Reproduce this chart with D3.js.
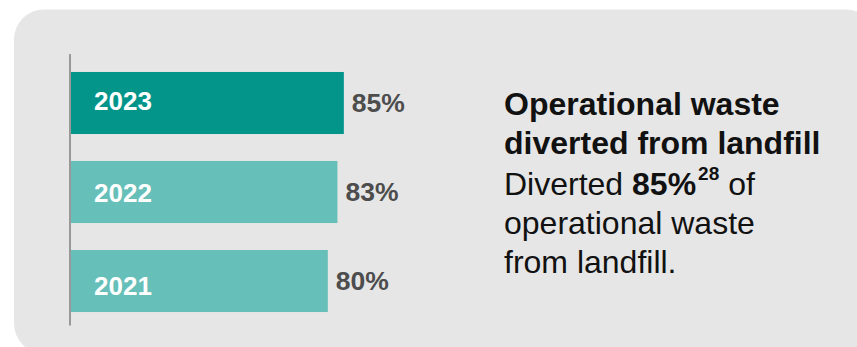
<!DOCTYPE html>
<html>
<head>
<meta charset="utf-8">
<script src="https://cdn.jsdelivr.net/npm/d3@7"></script>
<style>
  html, body { margin: 0; padding: 0; background: #ffffff; }
  svg { display: block; }
  text { font-family: "Liberation Sans", Arial, Helvetica, sans-serif; }
</style>
</head>
<body>
<div id="chart"></div>
<script>
// Waste diverted from landfill, by year (percent)
const years = ["2023", "2022", "2021"];
const diverted = [85, 83, 80];
const highlightYear = "2023";

// Side note text
const titleLines = ["Operational waste", "diverted from landfill"];
const noteValue = "85%";
const noteFootnote = "28";

const W = 857, H = 347;
const svg = d3.select("#chart").append("svg")
  .attr("width", W).attr("height", H);

// Rounded grey card behind everything
svg.append("rect")
  .attr("x", 14).attr("y", 9.5)
  .attr("width", 862).attr("height", 344)
  .attr("rx", 30).attr("ry", 30)
  .attr("fill", "#e6e6e6");

const x = d3.scaleLinear().domain([0, 100]).range([71, 392]);
const y = d3.scaleBand().domain(years).range([58.5, 325.5])
  .paddingInner(0.303).paddingOuter(0.1515);
// Baselines of the year labels inside the bars
const yLabel = d3.scalePoint().domain(years).range([109.5, 295]);

const rows = years.map((yr, i) => ({ year: yr, value: diverted[i] }));

// Bars
svg.append("g").selectAll("rect").data(rows).join("rect")
  .attr("x", x(0))
  .attr("y", d => y(d.year))
  .attr("width", d => x(d.value) - x(0))
  .attr("height", y.bandwidth())
  .attr("fill", d => d.year === highlightYear ? "#03958a" : "#66bfb8");

// Baseline axis
svg.append("line")
  .attr("x1", x(0) - 1).attr("x2", x(0) - 1)
  .attr("y1", 54).attr("y2", y.range()[1])
  .attr("stroke", "#999999").attr("stroke-width", 2);

// Year labels
svg.append("g").selectAll("text").data(rows).join("text")
  .attr("x", 94)
  .attr("y", d => yLabel(d.year))
  .attr("fill", "#ffffff")
  .attr("font-weight", "bold")
  .attr("font-size", 26)
  .text(d => d.year);

// Value labels
svg.append("g").selectAll("text").data(rows).join("text")
  .attr("x", d => x(d.value) + 8)
  .attr("y", d => y(d.year) + y.bandwidth() / 2 + 8.8)
  .attr("fill", "#4d4d4d")
  .attr("font-weight", "bold")
  .attr("font-size", 26.5)
  .text(d => d.value + "%");

// Side note
const note = svg.append("g").attr("fill", "#111111");
const tx = 504;
note.selectAll("text.title").data(titleLines).join("text")
  .attr("class", "title")
  .attr("x", tx)
  .attr("y", (d, i) => [115, 153.5][i])
  .attr("font-weight", "bold")
  .attr("font-size", 32)
  .text(d => d);

const l3 = note.append("text").attr("x", tx).attr("y", 195).attr("font-size", 32);
l3.append("tspan").text("Diverted ");
l3.append("tspan").attr("font-weight", "bold").text(noteValue);
l3.append("tspan").attr("font-weight", "bold").attr("font-size", 19)
  .attr("dx", 2).attr("dy", -15).text(noteFootnote);
l3.append("tspan").attr("dy", 15).text(" of");

note.append("text").attr("x", tx).attr("y", 234).attr("font-size", 32)
  .text("operational waste");
note.append("text").attr("x", tx).attr("y", 273.3).attr("font-size", 32)
  .text("from landfill.");
</script>
</body>
</html>
